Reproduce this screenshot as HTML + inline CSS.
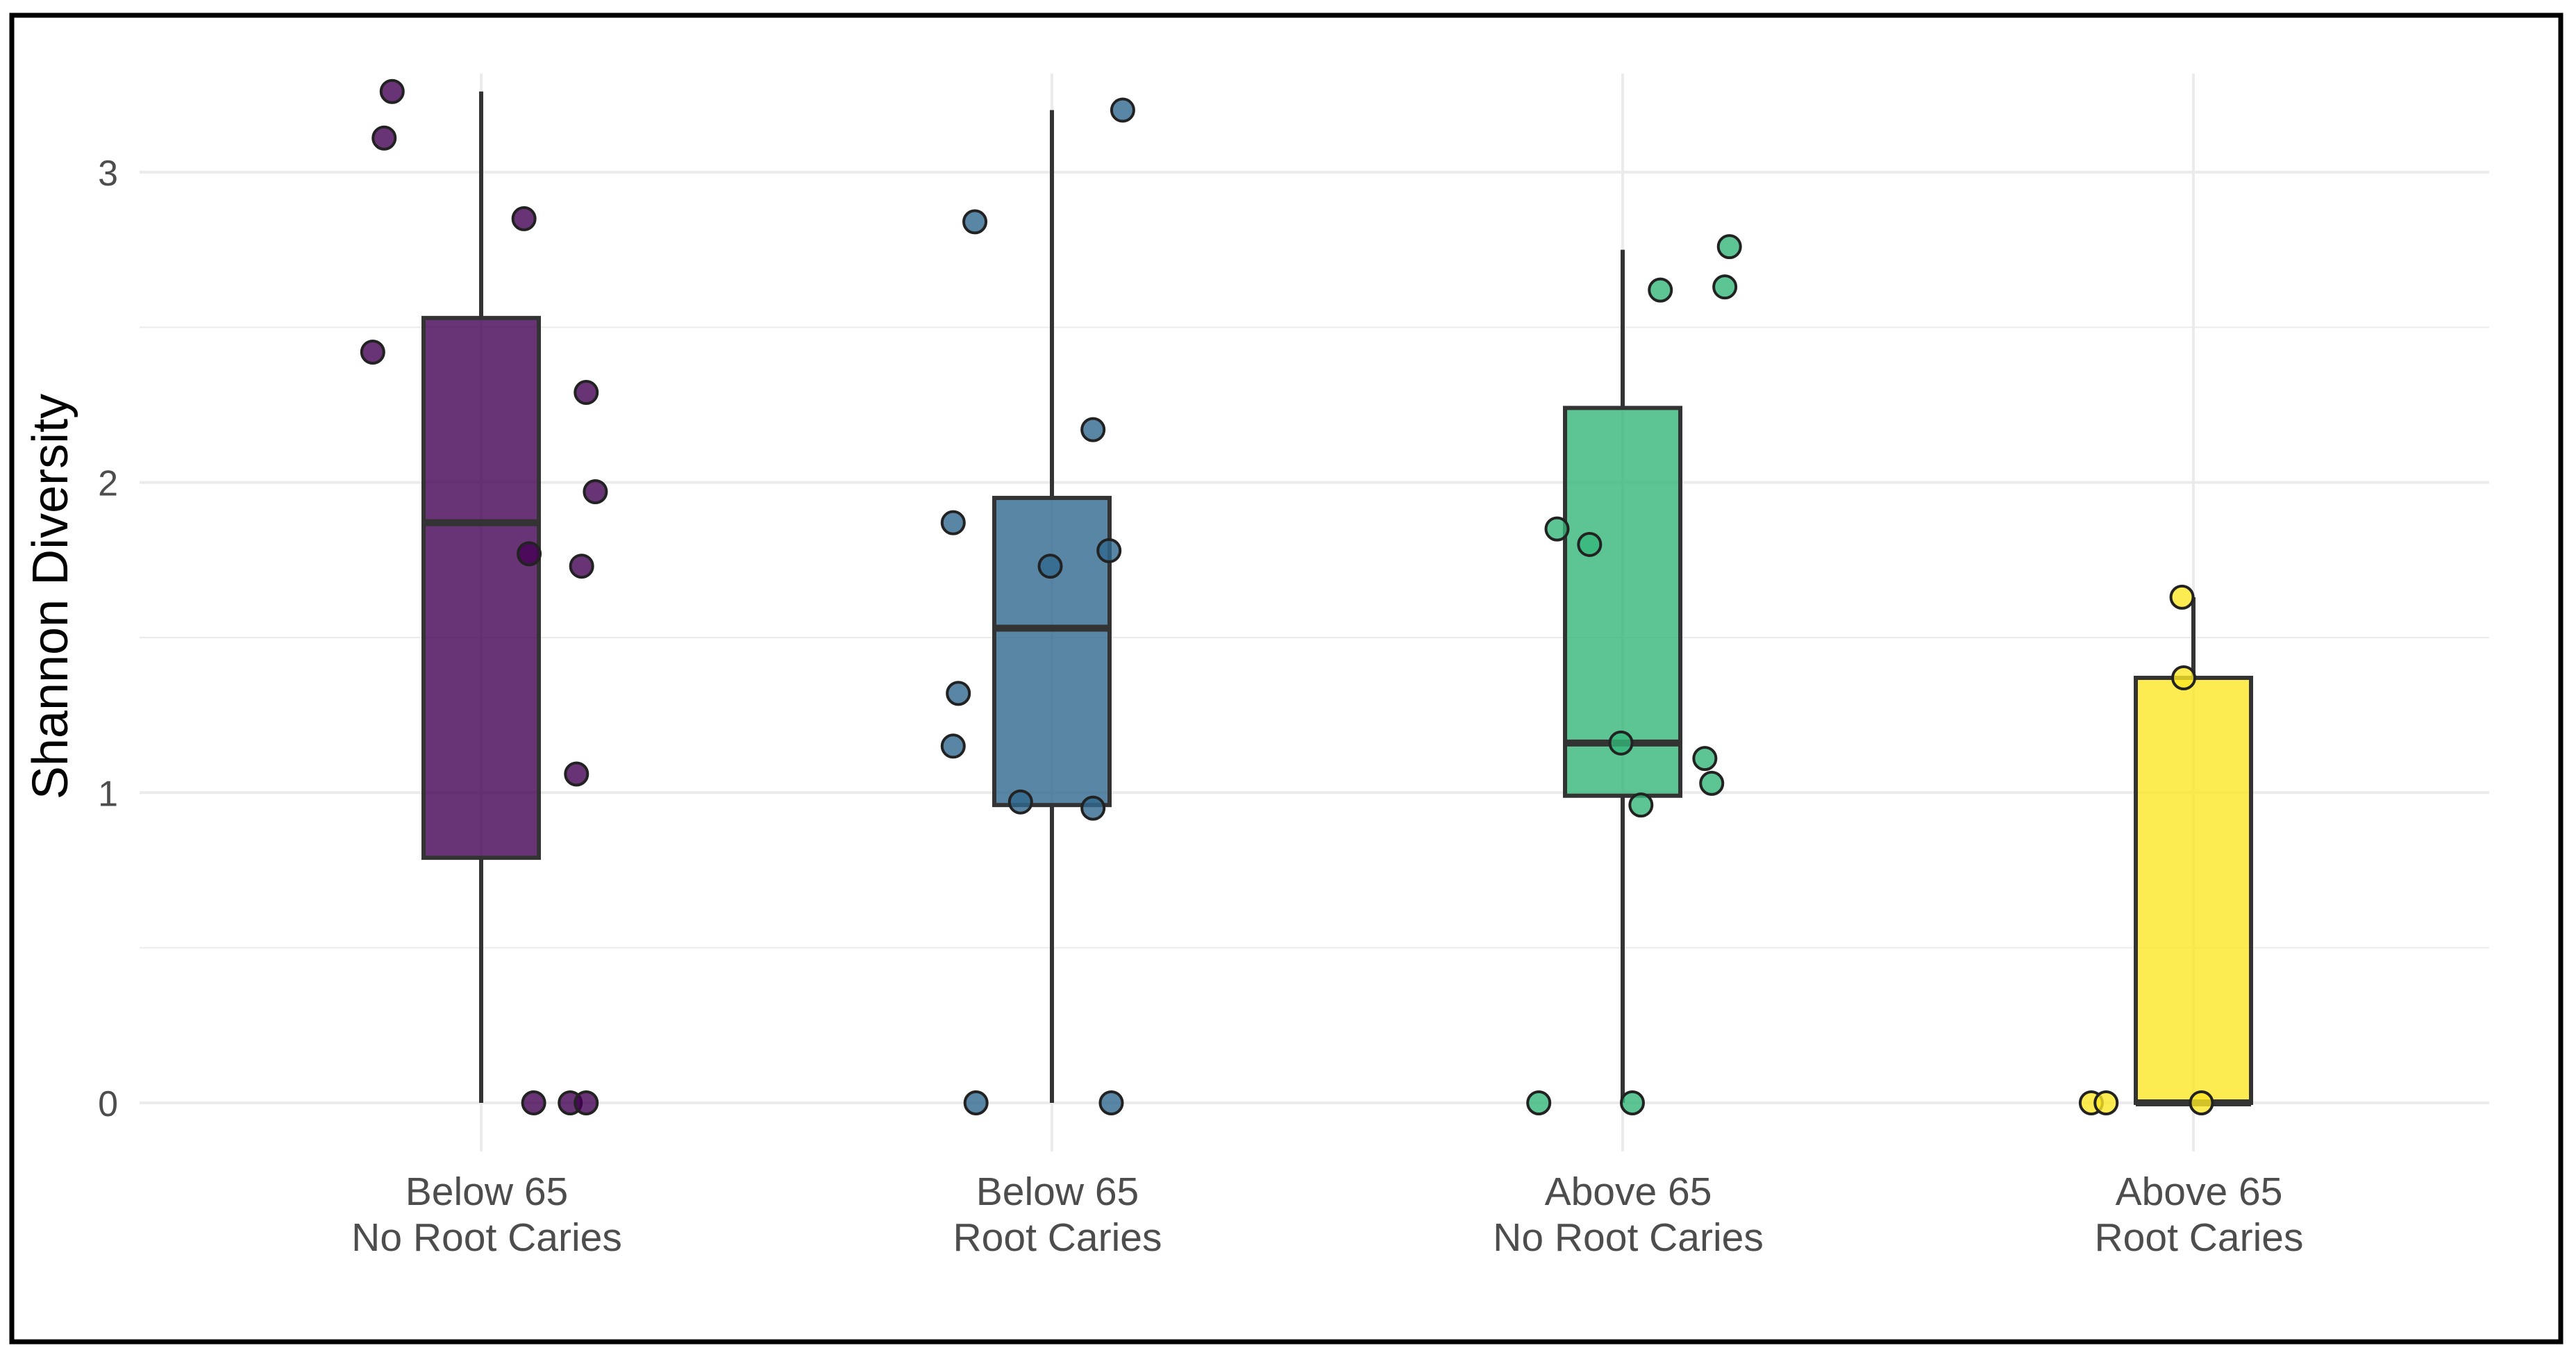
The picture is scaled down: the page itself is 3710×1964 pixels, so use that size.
<!DOCTYPE html>
<html><head><meta charset="utf-8"><style>
html,body{margin:0;padding:0;background:#fff;}
svg{display:block;font-family:"Liberation Sans",sans-serif;}
</style></head><body>
<svg id="chart" width="3710" height="1964" viewBox="0 0 3710 1964" xmlns="http://www.w3.org/2000/svg">
<rect x="17" y="22" width="3671" height="1910" fill="#fff" stroke="#000" stroke-width="7"/>
<g id="grid"></g>
<g id="boxes"></g>
<g id="points"></g>
<g id="yticks"></g>
<g id="xticks"></g>
<text transform="translate(97,859) rotate(-90)" text-anchor="middle" font-size="72" fill="#000">Shannon Diversity</text>
</svg>
<script>
const categories = [["Below 65","No Root Caries"],["Below 65","Root Caries"],["Above 65","No Root Caries"],["Above 65","Root Caries"]];
const colors = ["#440154","#31688e","#35b779","#fde725"];
const whiskerLow = [0,0,0,0];
const q1 = [0.79,0.96,0.99,0];
const medians = [1.87,1.53,1.16,0];
const q3 = [2.53,1.95,2.24,1.37];
const whiskerHigh = [3.26,3.2,2.75,1.63];
const pointValues = [
 [3.26,3.11,2.85,2.42,2.29,1.97,1.77,1.73,1.06,0,0,0],
 [3.2,2.84,2.17,1.87,1.73,1.78,1.32,1.15,0.97,0.95,0,0],
 [2.76,2.62,2.63,1.85,1.8,1.16,1.11,1.03,0.96,0,0],
 [1.63,1.37,0,0,0]
];
const jitter = [
 [-0.156,-0.17,0.075,-0.19,0.184,0.2,0.084,0.176,0.167,0.092,0.156,0.184],
 [0.124,-0.135,0.072,-0.173,-0.003,0.1,-0.164,-0.173,-0.055,0.072,-0.133,0.104],
 [0.187,0.066,0.179,-0.115,-0.058,-0.003,0.144,0.156,0.032,-0.147,0.017],
 [-0.02,-0.017,-0.179,-0.153,0.014]
];
const yTicks = [0,1,2,3];
const yMinor = [0.5,1.5,2.5];

const NS="http://www.w3.org/2000/svg";
function y(v){return 1588 - v*446.7;}
function x(i){return 693 + i*822;}
const BAND=822, HALF=83;
function mk(tag,attrs,parent){const e=document.createElementNS(NS,tag);for(const k in attrs)e.setAttribute(k,attrs[k]);parent.appendChild(e);return e;}
const grid=document.getElementById('grid');
yMinor.forEach(v=>{const l=mk('line',{x1:201,x2:3585,y1:y(v),y2:y(v),stroke:'#ebebeb','stroke-width':2},grid);

});
yTicks.forEach(v=>{const l=mk('line',{x1:201,x2:3585,y1:y(v),y2:y(v),stroke:'#ebebeb','stroke-width':4},grid);

});
categories.forEach((c,i)=>{const l=mk('line',{x1:x(i),x2:x(i),y1:106,y2:1658,stroke:'#ebebeb','stroke-width':4},grid);

});
const yt=document.getElementById('yticks');
yTicks.forEach(v=>{const t=mk('text',{x:170,y:y(v)+19,'text-anchor':'end','font-size':52,fill:'#4d4d4d'},yt);t.textContent=v;

});
const xt=document.getElementById('xticks');
categories.forEach((c,i)=>{const t=mk('text',{'text-anchor':'middle','font-size':57,fill:'#4d4d4d'},xt);


mk('tspan',{x:x(i)+8,y:1735},t).textContent=c[0];
mk('tspan',{x:x(i)+8,y:1801},t).textContent=c[1];});
const bx=document.getElementById('boxes');
categories.forEach((c,i)=>{const g=mk('g',{},bx);


mk('line',{x1:x(i),x2:x(i),y1:y(whiskerLow[i]),y2:y(q1[i]),stroke:'#333','stroke-width':6},g);
mk('line',{x1:x(i),x2:x(i),y1:y(q3[i]),y2:y(whiskerHigh[i]),stroke:'#333','stroke-width':6},g);
mk('rect',{x:x(i)-HALF,y:y(q3[i]),width:2*HALF,height:y(q1[i])-y(q3[i]),fill:colors[i],'fill-opacity':0.8,stroke:'#333','stroke-width':6},g);
mk('line',{x1:x(i)-HALF,x2:x(i)+HALF,y1:y(medians[i]),y2:y(medians[i]),stroke:'#333','stroke-width':10},g);});
const pt=document.getElementById('points');
pointValues.forEach((arr,i)=>arr.forEach((v,j)=>{const p=mk('circle',{cx:x(i)+jitter[i][j]*BAND,cy:y(v),r:16,fill:colors[i],'fill-opacity':0.8,stroke:'#222','stroke-width':4},pt);

}));
</script>
</body></html>
